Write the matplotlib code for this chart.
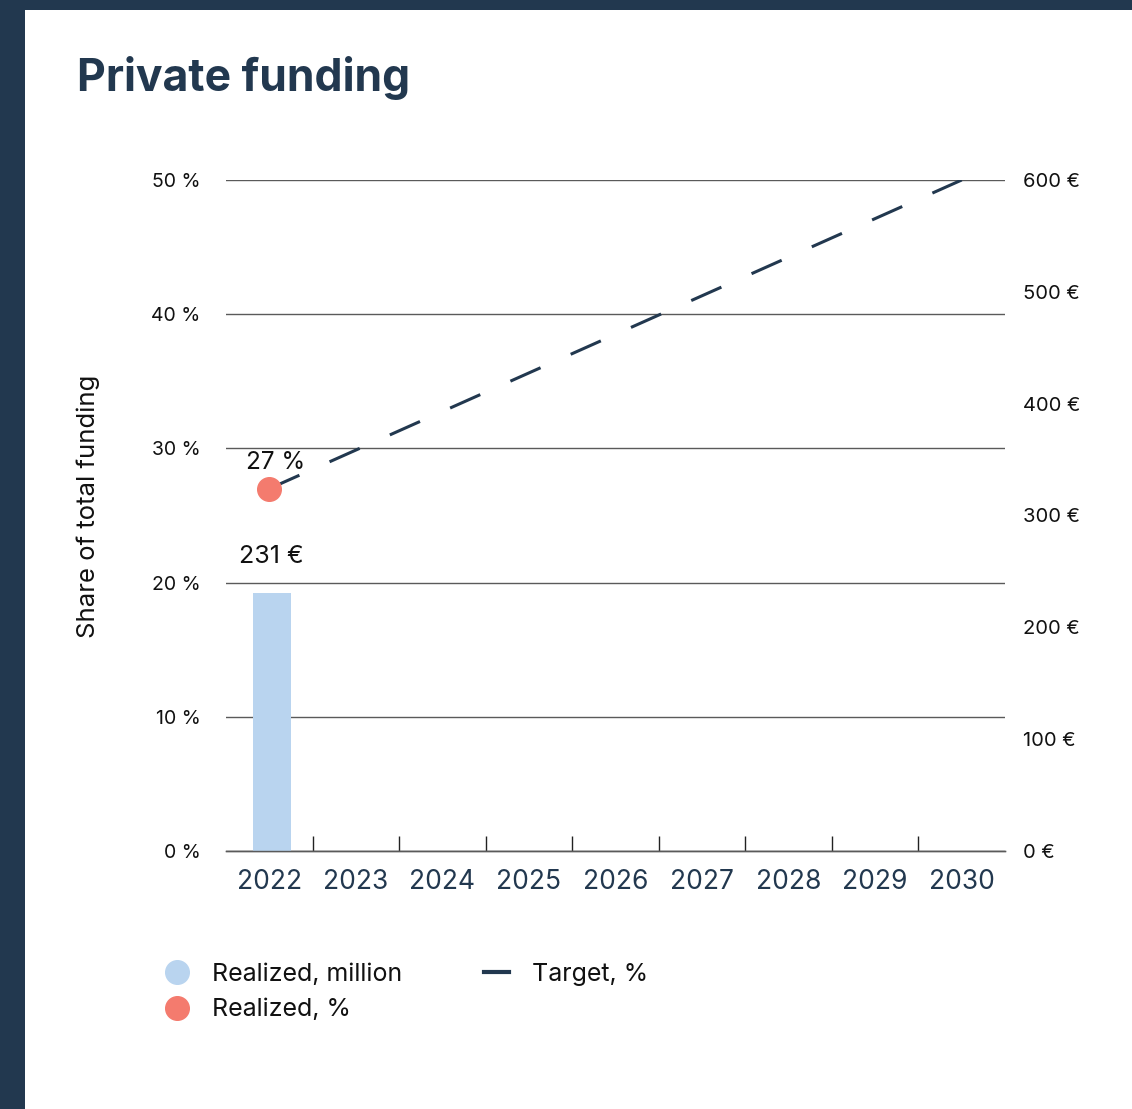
import matplotlib
matplotlib.use("Agg")
import matplotlib.pyplot as plt
from matplotlib.lines import Line2D
from matplotlib.patches import Rectangle

plt.rcParams['font.family'] = ['Inter', 'DejaVu Sans']

# data
years = ['2022', '2023', '2024', '2025', '2026', '2027', '2028', '2029', '2030']
realized_million = [231, None, None, None, None, None, None, None, None]
realized_pct_year = '2022'
realized_pct = 27
target_years = ['2022', '2030']
target_pct = [27, 50]
pct_ticks = [0, 10, 20, 30, 40, 50]
eur_ticks = [0, 100, 200, 300, 400, 500, 600]

navy = '#22384f'
blue = '#b9d4ef'
red = '#f47b6e'
grid = '#5a5a5a'

fig = plt.figure(figsize=(11.32, 11.09), dpi=100)
fig.patch.set_facecolor(navy)
fig.patches.append(Rectangle((25/1132, 0), 1, 1 - 10/1109, transform=fig.transFigure,
                             facecolor='white', edgecolor='none', zorder=-1))

fig.text(77/1132, 1 - 78/1109, 'Private funding', fontsize=32, fontweight='bold',
         color=navy, va='center', ha='left')

ax = fig.add_axes([226/1132, 1 - 851/1109, 779/1132, 671/1109])
ax.set_facecolor('none')
ax2 = ax.twinx()

idx = {y: i for i, y in enumerate(years)}

# bars on euro axis
for i, v in enumerate(realized_million):
    if v is not None:
        ax2.bar(i + 0.03, v, width=0.44, color=blue, zorder=2)
        ax2.text(i + 0.02, v + 22, f'{v} €', ha='center', va='bottom', fontsize=18, color='#111')

# target line and realized dot on percent axis
tx = [idx[y] for y in target_years]
ax.plot(tx, target_pct, color=navy, lw=2.2, ls=(0, (10.8, 10.8)), zorder=3, solid_capstyle='butt')
ax.plot(idx[realized_pct_year], realized_pct, 'o', color=red, ms=17, zorder=4)
ax.text(idx[realized_pct_year] + 0.07, realized_pct + 1.1, f'{realized_pct} %', ha='center',
        va='bottom', fontsize=17.5, color='#111', zorder=5)

ax.set_xlim(-0.5, len(years) - 0.5)
ax.set_ylim(0, 50)
ax2.set_ylim(0, 600)

ax.set_yticks(pct_ticks)
ax.set_yticklabels([f'{t} %' for t in pct_ticks], fontsize=14, color='#111')
ax2.set_yticks(eur_ticks)
ax2.set_yticklabels([f'{t} €' for t in eur_ticks], fontsize=14.5, color='#111')
ax.tick_params(axis='y', length=0, pad=18.5)
ax2.tick_params(axis='y', length=0, pad=13)

ax.set_xticks(range(len(years)))
ax.set_xticklabels(years, fontsize=19, color=navy)
ax.set_xticks([i + 0.5 for i in range(len(years) - 1)], minor=True)
ax.tick_params(axis='x', which='major', length=0, pad=13)
ax.tick_params(axis='x', which='minor', direction='in', length=11, width=1, color='#222')

ax.yaxis.grid(True, color=grid, lw=1)
ax.set_axisbelow(True)
for a in (ax, ax2):
    for s in ('top', 'left', 'right'):
        a.spines[s].set_visible(False)
    a.spines['bottom'].set_color(grid)
    a.spines['bottom'].set_linewidth(1)

ax.set_ylabel('Share of total funding', fontsize=18.5, color='#111')
ax.yaxis.set_label_coords((100 - 226) / 779, (851 - 506) / 671)

handles = [
    Line2D([], [], marker='o', ls='none', color=blue, ms=17),
    Line2D([], [], marker='o', ls='none', color=red, ms=17),
    Line2D([], [], color=navy, lw=3),
]
labels = ['Realized, million', 'Realized, %', 'Target, %']
fig.legend(handles, labels, loc='upper left', bbox_to_anchor=(164/1132, 1 - 963/1109),
           ncol=2, frameon=False, fontsize=18, handlelength=1.0, handletextpad=0.9,
           columnspacing=3.3, labelspacing=0.5, borderaxespad=0, borderpad=0,
           labelcolor='#111')

fig.savefig('out.png', dpi=100, facecolor=fig.get_facecolor())
